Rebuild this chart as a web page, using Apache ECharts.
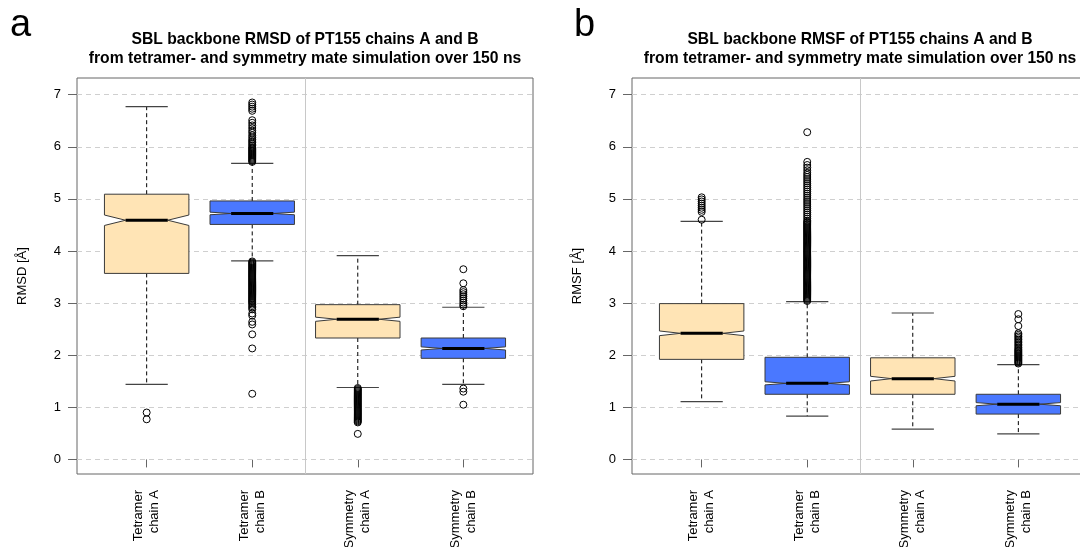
<!DOCTYPE html>
<html><head><meta charset="utf-8">
<script src="https://cdn.jsdelivr.net/npm/echarts@6/dist/echarts.min.js"></script>
<style>html,body{margin:0;padding:0;background:#fff}#c{width:1080px;height:547px}</style>
</head><body><div id="c"></div>
<script>
// ---------- DATA ----------
const categories = ['Tetramer\nchain A', 'Tetramer\nchain B', 'Symmetry\nchain A', 'Symmetry\nchain B'];
const positions = [1, 2, 3, 4];
const yTicks = [0, 1, 2, 3, 4, 5, 6, 7];
const titleRMSD = 'SBL backbone RMSD of PT155 chains A and B\nfrom tetramer- and symmetry mate simulation over 150 ns';
const titleRMSF = 'SBL backbone RMSF of PT155 chains A and B\nfrom tetramer- and symmetry mate simulation over 150 ns';
const yNameRMSD = 'RMSD [Å]';
const yNameRMSF = 'RMSF [Å]';

// [lower whisker, Q1, median, Q3, upper whisker]
const rmsdBoxes = [
  [1.44, 3.57, 4.59, 5.09, 6.77],
  [3.81, 4.51, 4.72, 4.96, 5.68],
  [1.38, 2.33, 2.69, 2.97, 3.91],
  [1.44, 1.94, 2.13, 2.33, 2.92]
];
const rmsdNotch = [0.10, 0.025, 0.04, 0.03];

const rmsdOutTetA = [0.90, 0.77];
const rmsdOutTetB = [6.85, 6.81, 6.77, 6.73, 6.69, 6.51, 6.46, 6.41, 6.36, 6.31, 6.27, 6.22, 6.18, 6.14, 6.11, 6.08, 6.05, 6.02, 5.99, 5.97, 5.95, 5.93, 5.91, 5.89, 5.87, 5.85, 5.83, 5.81, 5.79, 5.77, 5.75, 5.73, 5.71,
  3.80, 3.78, 3.76, 3.74, 3.72, 3.70, 3.68, 3.66, 3.64, 3.62, 3.60, 3.58, 3.56, 3.54, 3.52, 3.50, 3.48, 3.46, 3.44, 3.42, 3.40, 3.38, 3.36, 3.34, 3.32, 3.30, 3.28, 3.26, 3.24, 3.22, 3.20, 3.18, 3.16, 3.14, 3.12, 3.10, 3.08, 3.06, 3.04, 3.02, 3.00, 2.97, 2.94, 2.91, 2.88,
  2.80, 2.76, 2.64, 2.59, 2.40, 2.13, 1.26];
const rmsdOutSymA = [1.37, 1.35, 1.33, 1.31, 1.29, 1.27, 1.25, 1.23, 1.21, 1.19, 1.17, 1.15, 1.13, 1.11, 1.09, 1.07, 1.05, 1.03, 1.01, 0.99, 0.97, 0.95, 0.93, 0.91, 0.89, 0.87, 0.85, 0.83, 0.81, 0.79, 0.77, 0.75, 0.73, 0.71, 0.49];
const rmsdOutSymB = [3.65, 3.38, 3.25, 3.21, 3.17, 3.13, 3.09, 3.05, 3.01, 2.97, 2.94, 1.36, 1.30, 1.05];

const rmsfBoxes = [
  [1.11, 1.92, 2.42, 2.99, 4.57],
  [0.83, 1.25, 1.46, 1.96, 3.03],
  [0.58, 1.25, 1.55, 1.95, 2.81],
  [0.49, 0.87, 1.06, 1.25, 1.82]
];
const rmsfNotch = [0.045, 0.03, 0.045, 0.03];

const rmsfOutTetA = [5.03, 4.99, 4.95, 4.91, 4.87, 4.83, 4.79, 4.75, 4.60];
const rmsfOutTetB = [6.28, 5.71, 5.65, 5.60, 5.55, 5.50, 5.46, 5.42, 5.38, 5.34, 5.30, 5.26, 5.22, 5.18, 5.14, 5.10, 5.06, 5.02, 4.98, 4.94, 4.90, 4.86, 4.82, 4.78, 4.74, 4.70, 4.66, 4.62,
  4.58, 4.56, 4.54, 4.52, 4.50, 4.48, 4.46, 4.44, 4.42, 4.40, 4.38, 4.36, 4.34, 4.32, 4.30, 4.28, 4.26, 4.24, 4.22, 4.20, 4.18, 4.16, 4.14, 4.12, 4.10, 4.08, 4.06, 4.04, 4.02, 4.00,
  3.98, 3.96, 3.94, 3.92, 3.90, 3.88, 3.86, 3.84, 3.82, 3.80, 3.78, 3.76, 3.74, 3.72, 3.70, 3.68, 3.66, 3.64, 3.62, 3.60, 3.58, 3.56, 3.54, 3.52, 3.50, 3.48, 3.46, 3.44, 3.42, 3.40,
  3.38, 3.36, 3.34, 3.32, 3.30, 3.28, 3.26, 3.24, 3.22, 3.20, 3.18, 3.16, 3.14, 3.12, 3.10, 3.08, 3.06, 3.04];
const rmsfOutSymA = [];
const rmsfOutSymB = [2.79, 2.69, 2.56, 2.42, 2.39, 2.36, 2.33, 2.30, 2.27, 2.24, 2.21, 2.18, 2.15, 2.12, 2.10, 2.08, 2.06, 2.04, 2.02, 2.00, 1.98, 1.96, 1.94, 1.92, 1.90, 1.88, 1.86, 1.84];

// ---------- STYLE ----------
const FONT = '"Liberation Sans", Arial, Helvetica, sans-serif';
const boxColors = ['#FFE4B5', '#4A78FF', '#FFE4B5', '#4A78FF'];

function xAxis(gi) {
  return {
    type: 'value', gridIndex: gi, min: 0.34, max: 4.66,
    axisLine: { show: false }, splitLine: { show: false },
    axisTick: { show: true, customValues: positions, length: 8, lineStyle: { color: '#666' } },
    axisLabel: { customValues: positions, formatter: v => categories[positions.indexOf(v)],
      rotate: 90, margin: 16, fontSize: 13, lineHeight: 16, color: '#000', fontFamily: FONT }
  };
}
function yAxis(gi, name) {
  return {
    type: 'value', gridIndex: gi, min: -0.28, max: 7.32,
    name: name, nameLocation: 'middle', nameGap: 48,
    nameTextStyle: { fontSize: 13, color: '#000', fontFamily: FONT },
    axisLine: { show: false }, splitLine: { show: false },
    axisTick: { show: true, customValues: yTicks, length: 9, lineStyle: { color: '#666' } },
    axisLabel: { customValues: yTicks, margin: 16, fontSize: 13, color: '#000', fontFamily: FONT }
  };
}
function guideSeries(gi) {
  return {
    type: 'line', xAxisIndex: gi, yAxisIndex: gi, data: [], z: 1,
    markLine: {
      silent: true, symbol: 'none', label: { show: false }, animation: false, z: 1,
      data: yTicks.map(v => ({ yAxis: v, lineStyle: { type: [5, 4], color: '#cfcfcf', width: 1 } }))
        .concat([{ xAxis: 2.5, lineStyle: { type: 'solid', color: '#c8c8c8', width: 1 } }])
    }
  };
}
function boxSeries(gi, boxes, notches) {
  return {
    type: 'custom', xAxisIndex: gi, yAxisIndex: gi, z: 3, clip: true,
    data: boxes.map((b, i) => [positions[i], b[0], b[1], b[2], b[3], b[4], notches[i]]),
    encode: { x: 0, y: [1, 2, 3, 4, 5] },
    renderItem: function (params, api) {
      const x = api.value(0);
      const lo = api.value(1), q1 = api.value(2), med = api.value(3), q3 = api.value(4), hi = api.value(5), nt = api.value(6);
      const c = api.coord([x, med]);
      const cx = c[0], ym = c[1];
      const halfW = api.size([0.8, 0])[0] / 2;
      const Y = v => api.coord([x, v])[1];
      const yq1 = Y(q1), yq3 = Y(q3), ylo = Y(lo), yhi = Y(hi), ynl = Y(med - nt), ynh = Y(med + nt);
      const L = cx - halfW, R = cx + halfW, iL = cx - halfW / 2, iR = cx + halfW / 2;
      const color = boxColors[params.dataIndex];
      return {
        type: 'group',
        children: [
          { type: 'line', shape: { x1: cx, y1: yq3, x2: cx, y2: yhi }, style: { stroke: '#000', lineWidth: 1, lineDash: [4, 3] } },
          { type: 'line', shape: { x1: cx, y1: yq1, x2: cx, y2: ylo }, style: { stroke: '#000', lineWidth: 1, lineDash: [4, 3] } },
          { type: 'line', shape: { x1: iL, y1: yhi, x2: iR, y2: yhi }, style: { stroke: '#444', lineWidth: 1.2 } },
          { type: 'line', shape: { x1: iL, y1: ylo, x2: iR, y2: ylo }, style: { stroke: '#444', lineWidth: 1.2 } },
          { type: 'polygon', shape: { points: [[L, yq1], [L, ynl], [iL, ym], [L, ynh], [L, yq3], [R, yq3], [R, ynh], [iR, ym], [R, ynl], [R, yq1]] },
            style: { fill: color, stroke: '#3a3a3a', lineWidth: 1 } },
          { type: 'line', shape: { x1: iL, y1: ym, x2: iR, y2: ym }, style: { stroke: '#000', lineWidth: 3 } }
        ]
      };
    }
  };
}
function outlierSeries(gi, lists) {
  const data = [];
  lists.forEach((arr, i) => arr.forEach(v => data.push([positions[i], v])));
  return {
    type: 'scatter', xAxisIndex: gi, yAxisIndex: gi, z: 4, data: data,
    symbol: 'circle', symbolSize: 7, large: false, silent: true,
    itemStyle: { color: 'rgba(0,0,0,0)', borderColor: '#000', borderWidth: 1, opacity: 1 }
  };
}

const chart = echarts.init(document.getElementById('c'), null, { renderer: 'canvas' });
chart.setOption({
  animation: false,
  backgroundColor: '#fff',
  grid: [
    { left: 77, top: 78, width: 456, height: 396, show: true, borderColor: '#666', borderWidth: 1, containLabel: false, outerBoundsMode: 'none' },
    { left: 632, top: 78, width: 456, height: 396, show: true, borderColor: '#666', borderWidth: 1, containLabel: false, outerBoundsMode: 'none' }
  ],
  xAxis: [xAxis(0), xAxis(1)],
  yAxis: [yAxis(0, yNameRMSD), yAxis(1, yNameRMSF)],
  graphic: [
    { type: 'text', x: 10, y: 7, style: { text: 'a', fontSize: 38, fontFamily: FONT, fill: '#000', verticalAlign: 'top' } },
    { type: 'text', x: 574, y: 7, style: { text: 'b', fontSize: 38, fontFamily: FONT, fill: '#000', verticalAlign: 'top' } },
    { type: 'text', x: 305, y: 30, style: { text: titleRMSD, align: 'center', verticalAlign: 'top', fontSize: 15.7, fontWeight: 'bold', lineHeight: 19, fontFamily: FONT, fill: '#000' } },
    { type: 'text', x: 860, y: 30, style: { text: titleRMSF, align: 'center', verticalAlign: 'top', fontSize: 15.7, fontWeight: 'bold', lineHeight: 19, fontFamily: FONT, fill: '#000' } }
  ],
  series: [
    guideSeries(0), guideSeries(1),
    boxSeries(0, rmsdBoxes, rmsdNotch), boxSeries(1, rmsfBoxes, rmsfNotch),
    outlierSeries(0, [rmsdOutTetA, rmsdOutTetB, rmsdOutSymA, rmsdOutSymB]),
    outlierSeries(1, [rmsfOutTetA, rmsfOutTetB, rmsfOutSymA, rmsfOutSymB])
  ]
});
</script></body></html>
